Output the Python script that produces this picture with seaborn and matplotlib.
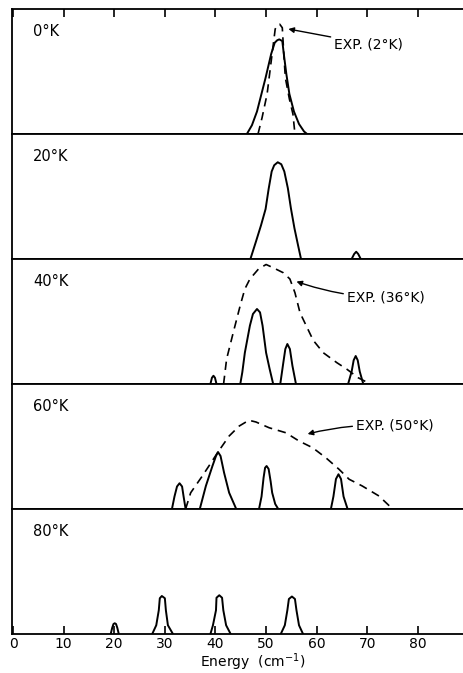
import matplotlib
matplotlib.use("Agg")
import matplotlib.pyplot as plt
import seaborn as sns
import pandas as pd

# ---------------- data ----------------
panel_labels = ["0°K", "20°K", "40°K", "60°K", "80°K"]
xticks = [0, 10, 20, 30, 40, 50, 60, 70, 80]

# 0 K
calc0_x = [46.2, 47.2, 48.2, 49.9, 51.0, 51.7, 52.2, 52.6, 53.2, 53.5, 54.0, 54.6, 55.5, 56.5, 57.5, 58.1]
calc0_y = [0.0, 0.07, 0.18, 0.45, 0.64, 0.73, 0.75, 0.757, 0.744, 0.64, 0.48, 0.32, 0.18, 0.08, 0.02, 0.0]
exp0_x = [48.4, 49.2, 50.2, 51.0, 51.8, 52.3, 52.7, 53.2, 53.5, 53.8, 54.6, 55.3, 55.7]
exp0_y = [0.0, 0.13, 0.32, 0.58, 0.84, 0.875, 0.878, 0.85, 0.64, 0.45, 0.28, 0.16, 0.0]

# 20 K
calc20a_x = [46.9, 48.0, 49.0, 49.9, 50.5, 51.1, 51.6, 52.3, 53.0, 53.6, 54.3, 54.9, 55.6, 56.3, 56.9]
calc20a_y = [0.0, 0.14, 0.27, 0.40, 0.56, 0.70, 0.75, 0.774, 0.758, 0.70, 0.566, 0.406, 0.246, 0.112, 0.0]
calc20b_x = [66.9, 67.4, 67.8, 68.2, 68.7]
calc20b_y = [0.0, 0.04, 0.058, 0.04, 0.0]

# 40 K
calc40a_x = [39.0, 39.3, 39.6, 39.9, 40.2]
calc40a_y = [0.0, 0.05, 0.066, 0.05, 0.0]
calc40b_x = [44.9, 45.3, 45.8, 46.8, 47.4, 48.2, 48.8, 49.3, 50.0, 50.7, 51.4]
calc40b_y = [0.0, 0.094, 0.25, 0.467, 0.56, 0.60, 0.573, 0.467, 0.25, 0.12, 0.0]
calc40c_x = [52.8, 53.4, 53.8, 54.2, 54.7, 55.2, 55.9]
calc40c_y = [0.0, 0.17, 0.28, 0.32, 0.28, 0.146, 0.0]
calc40d_x = [66.2, 66.9, 67.3, 67.7, 68.1, 68.5, 69.2]
calc40d_y = [0.0, 0.10, 0.19, 0.224, 0.19, 0.10, 0.0]
exp40_x = [41.6, 42.2, 43.5, 44.9, 45.8, 46.8, 48.5, 50.0, 51.4, 53.4, 54.7, 55.7, 56.7,
           58.0, 59.3, 61.3, 64.0, 65.9, 68.2, 70.6]
exp40_y = [0.0, 0.20, 0.41, 0.63, 0.76, 0.84, 0.92, 0.956, 0.93, 0.89, 0.84, 0.73, 0.57,
           0.46, 0.35, 0.25, 0.17, 0.12, 0.05, 0.0]

# 60 K
calc60a_x = [31.4, 31.9, 32.4, 32.9, 33.4, 33.7, 34.1]
calc60a_y = [0.0, 0.10, 0.18, 0.206, 0.18, 0.10, 0.0]
calc60b_x = [36.9, 38.1, 39.4, 40.1, 40.5, 41.0, 41.7, 42.7, 44.1]
calc60b_y = [0.0, 0.184, 0.344, 0.424, 0.456, 0.424, 0.29, 0.13, 0.0]
calc60c_x = [48.6, 49.1, 49.5, 49.8, 50.1, 50.5, 50.9, 51.2, 51.8, 52.4]
calc60c_y = [0.0, 0.10, 0.25, 0.33, 0.344, 0.32, 0.22, 0.13, 0.04, 0.0]
calc60d_x = [62.8, 63.3, 63.8, 64.3, 64.8, 65.3, 66.1]
calc60d_y = [0.0, 0.10, 0.24, 0.278, 0.24, 0.10, 0.0]
exp60_x = [34.1, 35.1, 37.4, 38.7, 40.5, 42.7, 44.7, 46.6, 48.0, 50.6, 53.9, 56.5, 59.2,
           61.8, 64.4, 66.4, 69.0, 72.3, 75.0]
exp60_y = [0.0, 0.13, 0.264, 0.344, 0.456, 0.584, 0.664, 0.71, 0.696, 0.65, 0.61, 0.544, 0.49,
           0.41, 0.318, 0.238, 0.184, 0.104, 0.0]

# 80 K
calc80a_x = [19.3, 19.6, 19.85, 20.1, 20.35, 20.6, 20.9]
calc80a_y = [0.0, 0.05, 0.08, 0.086, 0.08, 0.05, 0.0]
calc80b_x = [27.5, 28.3, 28.8, 29.0, 29.4, 30.0, 30.2, 30.6, 31.6]
calc80b_y = [0.0, 0.07, 0.19, 0.286, 0.304, 0.286, 0.19, 0.07, 0.0]
calc80c_x = [39.0, 39.5, 40.1, 40.2, 40.75, 41.3, 41.55, 42.1, 43.0]
calc80c_y = [0.0, 0.07, 0.19, 0.29, 0.31, 0.29, 0.19, 0.07, 0.0]
calc80d_x = [52.9, 53.7, 54.2, 54.5, 55.1, 55.7, 56.0, 56.5, 57.3]
calc80d_y = [0.0, 0.07, 0.19, 0.28, 0.30, 0.28, 0.19, 0.07, 0.0]

exp_labels = ["EXP. (2°K)", "EXP. (36°K)", "EXP. (50°K)"]
x_label = "Energy  (cm$^{-1}$)"

# ---------------- drawing ----------------
sns.set_style("white")
plt.rcParams["font.family"] = ["DejaVu Sans"]
plt.rcParams["text.color"] = "black"
plt.rcParams["axes.labelcolor"] = "black"
plt.rcParams["xtick.color"] = "black"

fig = plt.figure(figsize=(4.63, 6.73), dpi=100)
left, right, top, bottom = 12 / 463, 1.0, 1 - 9 / 673, 1 - 634 / 673
n = 5
h = (top - bottom) / n
axes = []
for i in range(n):
    ax = fig.add_axes([left, top - (i + 1) * h, right - left, h])
    axes.append(ax)

solid = {
    0: [(calc0_x, calc0_y)],
    1: [(calc20a_x, calc20a_y), (calc20b_x, calc20b_y)],
    2: [(calc40a_x, calc40a_y), (calc40b_x, calc40b_y), (calc40c_x, calc40c_y), (calc40d_x, calc40d_y)],
    3: [(calc60a_x, calc60a_y), (calc60b_x, calc60b_y), (calc60c_x, calc60c_y), (calc60d_x, calc60d_y)],
    4: [(calc80a_x, calc80a_y), (calc80b_x, calc80b_y), (calc80c_x, calc80c_y), (calc80d_x, calc80d_y)],
}
dashed = {0: (exp0_x, exp0_y), 2: (exp40_x, exp40_y), 3: (exp60_x, exp60_y)}

lw = 1.4
for i, ax in enumerate(axes):
    for xs, ys in solid[i]:
        df = pd.DataFrame({"x": xs, "y": ys})
        sns.lineplot(data=df, x="x", y="y", ax=ax, color="black", lw=lw,
                     sort=False, estimator=None)
    if i in dashed:
        xs, ys = dashed[i]
        df = pd.DataFrame({"x": xs, "y": ys})
        sns.lineplot(data=df, x="x", y="y", ax=ax, color="black", lw=1.2,
                     sort=False, estimator=None, linestyle=(0, (5, 3.5)))
    ax.set_xlim(-0.2, 88.9)
    ax.set_ylim(0, 1)
    ax.set_ylabel("")
    ax.set_xlabel("")
    ax.set_yticks([])
    for s in ["left", "top", "bottom"]:
        ax.spines[s].set_visible(True)
        ax.spines[s].set_linewidth(1.3)
        ax.spines[s].set_color("black")
    ax.spines["right"].set_visible(False)
    ax.text(4.0, 0.82, panel_labels[i], fontsize=10.5, ha="left", va="center")
    ax.set_xticks(xticks)
    if i == 0:
        ax.tick_params(axis="x", which="both", direction="in", length=6, width=1.2,
                       top=True, bottom=False, labeltop=False, labelbottom=False)
    elif i == n - 1:
        ax.tick_params(axis="x", which="both", direction="in", length=6, width=1.2,
                       top=False, bottom=True, labelbottom=True, labelsize=10, pad=2)
    else:
        ax.tick_params(axis="x", which="both", length=0, labelbottom=False)

fig.text(0.545, 1 - 667 / 673, x_label, fontsize=10, ha="center", va="baseline")

arrow_kw = dict(arrowstyle="-|>", color="black", lw=1.0, shrinkA=0, shrinkB=0,
                mutation_scale=8)
axes[0].annotate(exp_labels[0], xy=(54.4, 0.84), xytext=(63.4, 0.72),
                 fontsize=10, ha="left", va="center",
                 arrowprops=dict(**arrow_kw, connectionstyle="arc3,rad=0.0"))
axes[2].annotate(exp_labels[1], xy=(56.0, 0.82), xytext=(65.9, 0.69),
                 fontsize=10, ha="left", va="center",
                 arrowprops=dict(**arrow_kw, connectionstyle="arc3,rad=-0.08"))
axes[3].annotate(exp_labels[2], xy=(58.2, 0.60), xytext=(67.7, 0.665),
                 fontsize=10, ha="left", va="center",
                 arrowprops=dict(**arrow_kw, connectionstyle="arc3,rad=0.08"))

fig.savefig("out.png", dpi=100)
